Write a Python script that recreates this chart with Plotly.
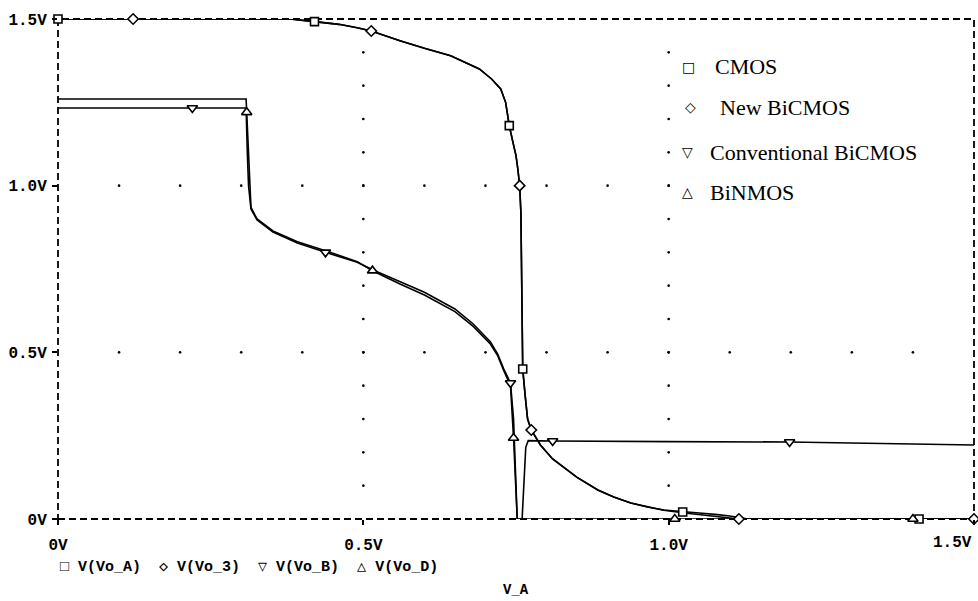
import numpy as np
import plotly.graph_objects as go

# ---- transfer characteristics, output voltage vs. input V_A (volts) ----
cmos_x = [0, 0.38, 0.42, 0.46, 0.49, 0.513, 0.56, 0.60, 0.643, 0.69, 0.71, 0.725, 0.733, 0.739,
          0.745, 0.750, 0.753, 0.756, 0.758, 0.760, 0.761, 0.765, 0.769, 0.775, 0.79, 0.81, 0.828,
          0.85, 0.884, 0.91, 0.938, 0.965, 0.992, 1.023, 1.05, 1.08, 1.10, 1.13, 1.41, 1.5]
cmos_y = [1.5, 1.5, 1.492, 1.484, 1.474, 1.464, 1.435, 1.412, 1.39, 1.35, 1.32, 1.29, 1.25, 1.18,
          1.13, 1.09, 1.05, 1.0, 0.92, 0.69, 0.45, 0.37, 0.30, 0.267, 0.222, 0.18, 0.156,
          0.125, 0.087, 0.066, 0.048, 0.036, 0.027, 0.021, 0.018, 0.013, 0.009, 0.0, 0.0, 0.0]
cmos_marks = [0, 2, 13, 20, 33, 38]

newbi_x = [0, 0.123, 0.38, 0.42, 0.46, 0.49, 0.513, 0.56, 0.60, 0.643, 0.69, 0.71, 0.725, 0.733,
           0.739, 0.745, 0.750, 0.753, 0.756, 0.758, 0.760, 0.761, 0.765, 0.769, 0.775, 0.79, 0.81,
           0.828, 0.85, 0.884, 0.91, 0.938, 0.965, 0.992, 1.023, 1.05, 1.07, 1.09, 1.115, 1.5]
newbi_y = [1.5, 1.5, 1.5, 1.492, 1.484, 1.474, 1.464, 1.435, 1.412, 1.39, 1.35, 1.32, 1.29, 1.25,
           1.18, 1.13, 1.09, 1.05, 1.0, 0.92, 0.69, 0.45, 0.37, 0.30, 0.267, 0.222, 0.18,
           0.156, 0.125, 0.087, 0.066, 0.048, 0.036, 0.026, 0.019, 0.013, 0.008, 0.004, 0.0, 0.0]
newbi_marks = [1, 6, 18, 24, 38, 39]

conv_x = [0, 0.22, 0.308, 0.310, 0.312, 0.316, 0.326, 0.352, 0.392, 0.438, 0.49, 0.515, 0.56, 0.6,
          0.65, 0.68, 0.708, 0.72, 0.73, 0.741, 0.746, 0.749, 0.752, 0.760, 0.763, 0.766, 0.77,
          0.81, 1.0, 1.198, 1.5]
conv_y = [1.233, 1.233, 1.233, 1.1, 1.0, 0.93, 0.897, 0.861, 0.828, 0.80, 0.77, 0.748, 0.712, 0.68,
          0.63, 0.585, 0.532, 0.495, 0.45, 0.408, 0.30, 0.12, 0.0, 0.0, 0.12, 0.215, 0.235,
          0.234, 0.232, 0.231, 0.222]
conv_marks = [1, 9, 19, 27, 29]

binmos_x = [0, 0.308, 0.309, 0.312, 0.316, 0.326, 0.352, 0.392, 0.438, 0.49, 0.515, 0.56, 0.6,
            0.65, 0.68, 0.708, 0.72, 0.73, 0.741, 0.746, 0.749, 0.752, 1.01, 1.40, 1.5]
binmos_y = [1.26, 1.26, 1.22, 1.1, 0.935, 0.9, 0.864, 0.832, 0.805, 0.772, 0.745, 0.705, 0.672,
            0.622, 0.578, 0.525, 0.49, 0.445, 0.40, 0.243, 0.1, 0.0, 0.0, 0.0, 0.0]
binmos_marks = [2, 10, 19, 22, 23]

tick_vals = [0, 0.5, 1.0, 1.5]
tick_text = ["0V", "0.5V", "1.0V", "1.5V"]
legend_names = ["CMOS", "New BiCMOS", "Conventional BiCMOS", "BiNMOS"]
probe_names = ["V(Vo_A)", "V(Vo_3)", "V(Vo_B)", "V(Vo_D)"]
x_title = "V_A"

MONO = "Liberation Mono, DejaVu Sans Mono, monospace"
SERIF = "Liberation Serif, DejaVu Serif, serif"
INK = "black"

W, H = 978, 601
L, R, T, B = 58, 4, 19, 82
pw, ph = W - L - R, H - T - B


def px(xp):
    return (xp - L) / pw


def py(yp):
    return (H - B - yp) / ph


fig = go.Figure()

# dotted grid: a dot every 0.1 V along the inner major grid lines
fine = np.round(np.arange(0.1, 1.5, 0.1), 2)
inner = tick_vals[1:-1]
gx = np.concatenate([np.repeat(inner, len(fine)), np.tile(fine, len(inner))])
gy = np.concatenate([np.tile(fine, len(inner)), np.repeat(inner, len(fine))])
fig.add_trace(go.Scatter(x=gx, y=gy, mode="markers", hoverinfo="skip", showlegend=False,
                         marker=dict(size=2.6, color=INK, line=dict(width=0))))

series = [
    (cmos_x, cmos_y, cmos_marks, "square", 8),
    (newbi_x, newbi_y, newbi_marks, "diamond", 8),
    (conv_x, conv_y, conv_marks, "triangle-down", 9),
    (binmos_x, binmos_y, binmos_marks, "triangle-up", 9),
]
for (xs, ys, marks, sym, sz), name in zip(series, legend_names):
    fig.add_trace(go.Scatter(x=xs, y=ys, mode="lines", name=name, showlegend=False,
                             line=dict(color=INK, width=1.6)))
for (xs, ys, marks, sym, sz), name in zip(series, legend_names):
    fig.add_trace(go.Scatter(x=[xs[i] for i in marks], y=[ys[i] for i in marks],
                             mode="markers", name=name, showlegend=False, cliponaxis=False,
                             marker=dict(symbol=sym, size=sz, color="white",
                                         line=dict(color=INK, width=1.6))))

# dashed plot frame
fig.add_shape(type="rect", xref="paper", yref="paper", x0=0, x1=1, y0=0, y1=1,
              line=dict(color=INK, width=1.8, dash="7px,4px"), layer="below")
# blank backing behind the in-plot legend
fig.add_shape(type="rect", xref="paper", yref="paper", x0=px(679), x1=px(968),
              y0=py(212), y1=py(44), line=dict(width=0), fillcolor="white", layer="above")

# in-plot legend text
leg_sym = ["\u25A1", "\u25C7", "\u25BD", "\u25B3"]
leg_sym_x = [688, 690, 687, 687]
leg_txt_x = [713, 718, 708, 708]
leg_y = [67, 107, 152, 192]
for s, n, sx, tx, ly in zip(leg_sym, legend_names, leg_sym_x, leg_txt_x, leg_y):
    fig.add_annotation(x=px(sx), y=py(ly), xref="paper", yref="paper", text=s,
                       showarrow=False, xanchor="center", yanchor="middle",
                       font=dict(family="DejaVu Sans", size=14, color=INK, weight="bold"))
    fig.add_annotation(x=px(tx), y=py(ly), xref="paper", yref="paper", text=n,
                       showarrow=False, xanchor="left", yanchor="middle",
                       font=dict(family=SERIF, size=22, color=INK))

# probe list below the axis
probe_line = "  ".join(f"{s} {p}" for s, p in zip(leg_sym, probe_names))
fig.add_annotation(x=0, y=py(567), xref="paper", yref="paper", text=probe_line,
                   showarrow=False, xanchor="left", yanchor="middle",
                   font=dict(family=MONO, size=15, color=INK, weight="bold"))
fig.add_annotation(x=0.5, y=py(590), xref="paper", yref="paper", text=x_title,
                   showarrow=False, xanchor="center", yanchor="middle",
                   font=dict(family=MONO, size=14, color=INK, weight="bold"))

tick_font = dict(family=MONO, size=16, color=INK, weight="bold")
axis_common = dict(range=[0, 1.5], tickvals=tick_vals,
                   showgrid=False, zeroline=False, showline=False,
                   ticks="outside", ticklen=5, tickwidth=1.6, tickcolor=INK,
                   tickfont=tick_font)

# last x label sits flush with the right frame edge
fig.add_annotation(x=1.0, y=py(543), xref="paper", yref="paper", text=tick_text[-1],
                   showarrow=False, xanchor="right", yanchor="middle", font=tick_font)

fig.update_layout(
    width=W, height=H, autosize=False,
    margin=dict(l=L, r=R, t=T, b=B, autoexpand=False),
    paper_bgcolor="white", plot_bgcolor="white",
    xaxis=dict(**axis_common, ticktext=tick_text[:-1] + [""], ticklabelstandoff=6),
    yaxis=dict(**axis_common, ticktext=tick_text, ticklabelstandoff=2),
    showlegend=False,
)

fig.write_html("out.html")
